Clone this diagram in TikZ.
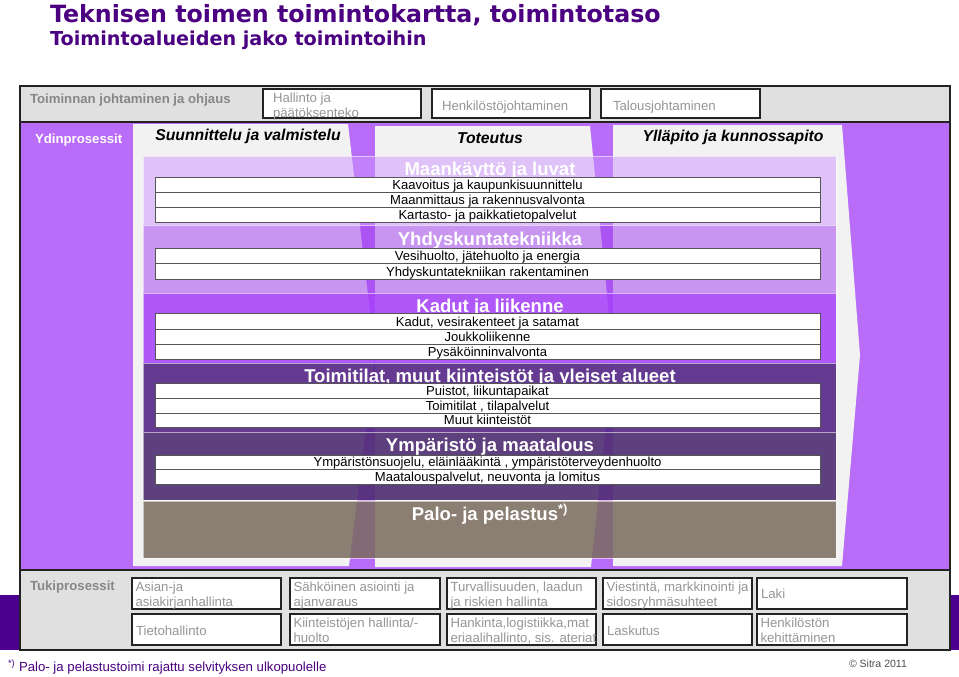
\documentclass[tikz,border=0pt]{standalone}
\usepackage{fontspec}
\setmainfont{Liberation Sans}
\newfontfamily\titlefont{DejaVu Sans}
\definecolor{titlec}{RGB}{74,0,128}
\definecolor{bgp}{RGB}{184,108,248}
\definecolor{slidep}{RGB}{76,0,142}
\definecolor{panelc}{RGB}{242,242,242}
\definecolor{grayrow}{RGB}{224,224,224}
\definecolor{framec}{RGB}{35,35,35}
\definecolor{txtg}{RGB}{150,150,150}
\definecolor{lblg}{RGB}{135,135,135}
\definecolor{bA}{RGB}{205,150,255}
\definecolor{bB}{RGB}{160,60,240}
\definecolor{bC}{RGB}{165,60,250}
\definecolor{bD}{RGB}{85,40,135}
\definecolor{bE}{RGB}{80,45,115}
\definecolor{bF}{RGB}{121,107,93}
\definecolor{rowline}{RGB}{85,85,85}
\definecolor{copyc}{RGB}{80,80,80}
\newcommand\myrow[4]{%
  \draw[rowst] (155,#2) rectangle (820,#3);
  \node[rowtxt] (#1) at (487.5,{#3-2.8}) {#4};}
\newcommand\mybox[6]{%
  \draw[gbox] (#2,#3) rectangle (#4,#5);
  \node[gtxt,align=left] (#1) at ({#2+3.5},{#3+28}) {#6};}
\begin{document}
\begin{tikzpicture}[x=0.75pt,y=-0.75pt,
  every node/.style={inner sep=0pt,outer sep=0pt},
  band/.style={draw=white,draw opacity=0.55,line width=0.6pt},
  rowst/.style={fill=white,draw=rowline,line width=0.6pt},
  rowtxt/.style={anchor=base,font=\fontsize{9.8}{11}\selectfont,text=black},
  btitle/.style={anchor=base,font=\bfseries\fontsize{13.9}{15}\selectfont,text=white},
  tabtitle/.style={anchor=base,font=\bfseries\itshape\fontsize{11.8}{13}\selectfont,text=black},
  gbox/.style={fill=white,draw=framec,line width=1.2pt},
  gtxt/.style={anchor=base west,font=\fontsize{9.9}{11.25}\selectfont,text=txtg},
  glbl/.style={anchor=base west,font=\bfseries\fontsize{9.9}{11}\selectfont,text=lblg},
]
\useasboundingbox (0,0) rectangle (959,676);
\fill[white] (0,0) rectangle (959,676);
% titles
\node[anchor=base west,text=titlec,font=\titlefont\bfseries\fontsize{17.8}{20}\selectfont] (title) at (50,22) {Teknisen toimen toimintokartta, toimintotaso};
\node[anchor=base west,text=titlec,font=\titlefont\bfseries\fontsize{14.4}{16}\selectfont] (subtitle) at (50,45) {Toimintoalueiden jako toimintoihin};
% slide band and frame
\fill[slidep] (0,595) rectangle (959,650);
\fill[grayrow] (20,86) rectangle (950,122);
\fill[bgp] (20,122) rectangle (950,570);
\fill[grayrow] (20,570) rectangle (950,650);
\draw[framec,line width=1.5pt] (20,86) rectangle (950,650);
\draw[framec,line width=1.5pt] (20,122) -- (950,122);
\draw[framec,line width=1.2pt] (20,570) -- (950,570);
% top row
\node[glbl] (johto) at (30,103) {Toiminnan johtaminen ja ohjaus};
\draw[gbox] (263,89) rectangle (421,118);
\node[gtxt] (hal1) at (273,102) {Hallinto ja};
\node[gtxt] (hal2) at (273,117) {päätöksenteko};
\draw[gbox] (432,89) rectangle (590,118);
\node[gtxt] (henk) at (442,110) {Henkilöstöjohtaminen};
\draw[gbox] (601,89) rectangle (760,118);
\node[gtxt] (talous) at (613,110) {Talousjohtaminen};
\node[anchor=base west,font=\bfseries\fontsize{9.9}{11}\selectfont,text=white] (ydin) at (35,143) {Ydinprosessit};
% panels
\fill[panelc] (133,124) -- (348,124) -- (375,355) -- (349,566) -- (133,566) -- cycle;
\fill[panelc] (375,126) -- (590,126) -- (613,355) -- (591,567) -- (375,567) -- cycle;
\fill[panelc] (613,125) -- (842,125) -- (860,355) -- (842,566) -- (613,566) -- cycle;
\node[tabtitle] (tab1) at (248,140) {Suunnittelu ja valmistelu};
\node[tabtitle] (tab2) at (490,143) {Toteutus};
\node[tabtitle] (tab3) at (733,141) {Ylläpito ja kunnossapito};
% bands
\path[band,fill=bA,fill opacity=0.5] (143,156) rectangle (836,225);
\path[band,fill=bB,fill opacity=0.5] (143,225) rectangle (836,293);
\path[band,fill=bC,fill opacity=0.85] (143,293) rectangle (836,363);
\path[band,fill=bD,fill opacity=0.9] (143,363) rectangle (836,432);
\path[band,fill=bE,fill opacity=0.9] (143,432) rectangle (836,500);
\path[band,fill=bF,fill opacity=0.85] (143,501) rectangle (836,558);
\node[btitle] (maa) at (490,175) {Maankäyttö ja luvat};
\node[btitle] (yhd) at (490,245) {Yhdyskuntatekniikka};
\node[btitle] (kad) at (490,312) {Kadut ja liikenne};
\node[btitle] (toi) at (490,382) {Toimitilat, muut kiinteistöt ja yleiset alueet};
\node[btitle] (ymp) at (490,451) {Ympäristö ja maatalous};
\node[btitle] (pal) at (490,520) {Palo- ja pelastus\textsuperscript{*)}};
% rows
\myrow{r1}{177}{192}{Kaavoitus ja kaupunkisuunnittelu}
\myrow{r2}{192}{207}{Maanmittaus ja rakennusvalvonta}
\myrow{r3}{207}{222}{Kartasto- ja paikkatietopalvelut}
\myrow{r4}{248}{263}{Vesihuolto, jätehuolto ja energia}
\myrow{r5}{263}{279}{Yhdyskuntatekniikan rakentaminen}
\myrow{r6}{313}{329}{Kadut, vesirakenteet ja satamat}
\myrow{r7}{329}{344}{Joukkoliikenne}
\myrow{r8}{344}{359}{Pysäköinninvalvonta}
\myrow{r9}{383}{398}{Puistot, liikuntapaikat}
\myrow{r10}{398}{413}{Toimitilat , tilapalvelut}
\myrow{r11}{413}{427}{Muut kiinteistöt}
\myrow{r12}{455}{469}{Ympäristönsuojelu, eläinlääkintä , ympäristöterveydenhuolto}
\myrow{r13}{469}{484}{Maatalouspalvelut, neuvonta ja lomitus}
% support processes
\node[glbl] (tuki) at (30,590) {Tukiprosessit};
\mybox{s1}{132}{578}{281}{609}{Asian-ja\\asiakirjanhallinta}
\mybox{s2}{290}{578}{440}{609}{Sähköinen asiointi ja\\ajanvaraus}
\mybox{s3}{447}{578}{596}{609}{Turvallisuuden, laadun\\ja riskien hallinta}
\mybox{s4}{603}{578}{752}{609}{Viestintä, markkinointi ja\\sidosryhmäsuhteet}
\draw[gbox] (757,578) rectangle (907,609);
\node[gtxt] (s5) at (761,598) {Laki};
\draw[gbox] (132,614) rectangle (281,645);
\node[gtxt] (s6) at (136,635) {Tietohallinto};
\mybox{s7}{290}{614}{440}{645}{Kiinteistöjen hallinta/-\\huolto}
\mybox{s8}{447}{614}{596}{645}{Hankinta,logistiikka,mat\\eriaalihallinto, sis. ateriat}
\draw[gbox] (603,614) rectangle (752,645);
\node[gtxt] (s9) at (607,635) {Laskutus};
\mybox{s10}{757}{614}{907}{645}{Henkilöstön\\kehittäminen}
% footer
\node[anchor=base west,text=titlec,font=\fontsize{9.9}{11}\selectfont] (foot) at (8,671) {\textsuperscript{*)} Palo- ja pelastustoimi rajattu selvityksen ulkopuolelle};
\node[anchor=base west,text=copyc,font=\fontsize{7.9}{9}\selectfont] (copy) at (849,667) {© Sitra 2011};
\end{tikzpicture}
\end{document}
